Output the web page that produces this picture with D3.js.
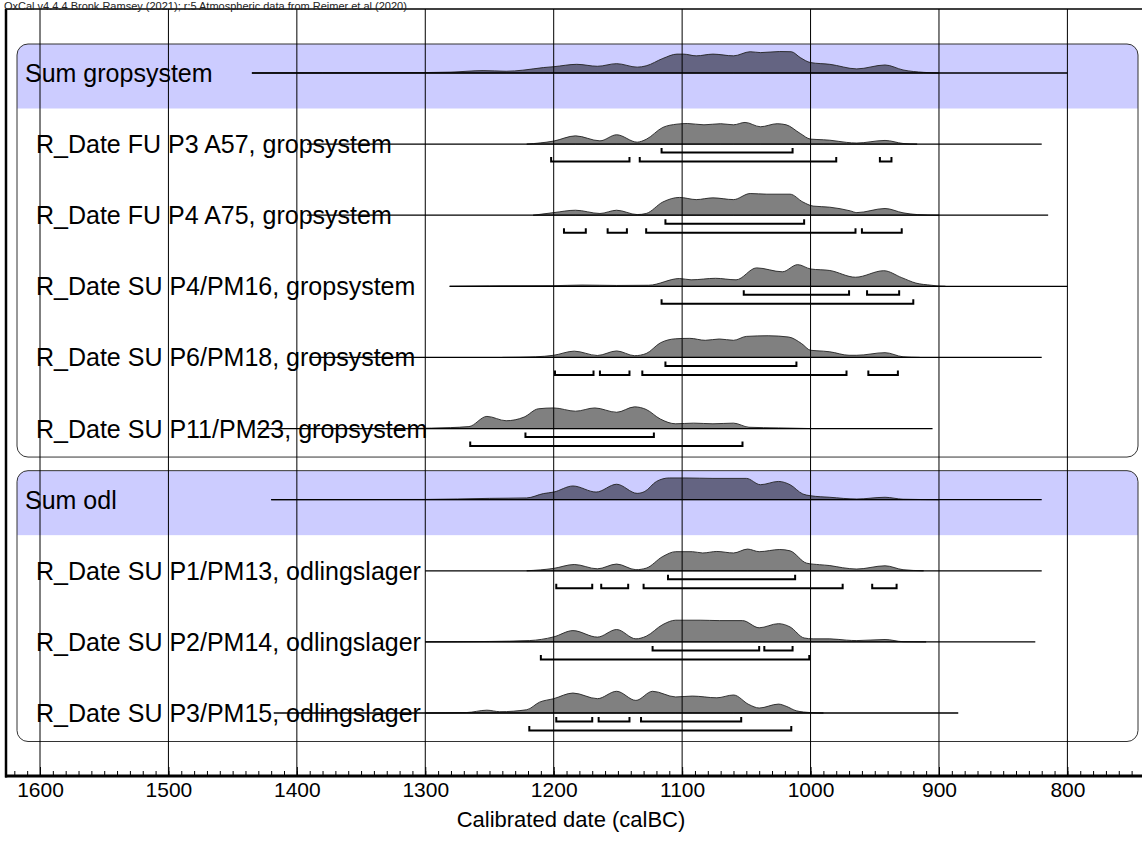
<!DOCTYPE html>
<html lang="en">
<head>
<meta charset="UTF-8" />
<title>OxCal multiplot</title>
<script src="https://cdn.jsdelivr.net/npm/d3@7"></script>
<style>
  body { margin: 0; background: #fff; }
  text { font-family: "Liberation Sans", Arial, sans-serif; }
</style>
</head>
<body>
<script>

// ---- data (years BC, relative probability 0..1) ----
var header = "OxCal v4.4.4 Bronk Ramsey (2021); r:5 Atmospheric data from Reimer et al (2020)";
var axisTitle = "Calibrated date (calBC)";
var majorTicks = [1600, 1500, 1400, 1300, 1200, 1100, 1000, 900, 800];
var minorTicks = d3.range(1620, 740, -10);

var labels = [
  "Sum gropsystem",
  "R_Date FU P3 A57, gropsystem",
  "R_Date FU P4 A75, gropsystem",
  "R_Date SU P4/PM16, gropsystem",
  "R_Date SU P6/PM18, gropsystem",
  "R_Date SU P11/PM23, gropsystem",
  "Sum odl",
  "R_Date SU P1/PM13, odlingslager",
  "R_Date SU P2/PM14, odlingslager",
  "R_Date SU P3/PM15, odlingslager"
];
var kinds = ["sum", "date", "date", "date", "date", "date", "sum", "date", "date", "date"];
var spans = [[1435, 800], [1392, 820], [1392, 815], [1281, 800], [1390, 820],
             [1431, 905], [1420, 820], [1300, 820], [1300, 825], [1418, 885]];
var groups = [[0, 5], [6, 9]];

var densSumGrop = [[1435,0],[1380,0.01],[1300,0.02],[1280,0.04],[1255,0.11],[1237,0.08],[1224,0.13],[1208,0.25],[1200,0.29],[1182,0.40],[1166,0.31],[1151,0.43],[1135,0.27],[1128,0.33],[1115,0.67],[1104,0.87],[1099,0.87],[1089,0.79],[1076,0.87],[1060,0.79],[1047,0.98],[1039,0.94],[1024,0.99],[1015,0.98],[1008,0.71],[1000,0.48],[985,0.40],[964,0.19],[942,0.37],[928,0.14],[912,0.03],[900,0]];
var densP3A57 = [[1221,0],[1200,0.14],[1183,0.38],[1164,0.15],[1151,0.43],[1135,0.09],[1128,0.22],[1115,0.77],[1104,0.92],[1096,0.95],[1083,0.89],[1070,0.94],[1060,0.89],[1051,1.0],[1039,0.8],[1026,0.94],[1019,0.89],[1008,0.49],[1000,0.23],[990,0.2],[985,0.18],[972,0.08],[964,0.05],[942,0.17],[928,0.03],[917,0]];
var densP4A75 = [[1216,0],[1200,0.12],[1183,0.23],[1164,0.08],[1151,0.23],[1135,0.03],[1128,0.08],[1115,0.61],[1102,0.82],[1089,0.72],[1076,0.8],[1060,0.72],[1047,1.0],[1034,0.97],[1016,0.97],[1006,0.61],[998,0.42],[985,0.37],[969,0.2],[964,0.12],[942,0.31],[928,0.11],[917,0.03],[900,0]];
var densP4PM16 = [[1281,0],[1250,0.02],[1200,0.03],[1178,0.06],[1151,0.04],[1126,0.05],[1102,0.36],[1093,0.3],[1074,0.37],[1058,0.3],[1042,0.85],[1022,0.67],[1010,1.0],[1000,0.8],[985,0.73],[965,0.42],[943,0.72],[929,0.4],[918,0.15],[906,0.05],[900,0.01],[895,0]];
var densP6PM18 = [[1240,0],[1214,0.03],[1200,0.1],[1184,0.29],[1166,0.09],[1151,0.3],[1137,0.08],[1128,0.18],[1117,0.67],[1105,0.86],[1094,0.88],[1082,0.79],[1071,0.85],[1060,0.79],[1050,0.97],[1033,1.0],[1017,0.94],[1007,0.64],[1000,0.33],[990,0.29],[985,0.26],[970,0.1],[964,0.1],[942,0.22],[928,0.03],[915,0]];
var densP11PM23 = [[1320,0],[1295,0.02],[1266,0.09],[1252,0.56],[1237,0.36],[1223,0.53],[1212,0.91],[1200,0.95],[1183,0.8],[1168,0.95],[1151,0.75],[1137,1.0],[1128,0.88],[1117,0.44],[1105,0.22],[1091,0.25],[1076,0.22],[1060,0.25],[1048,0.06],[1025,0.03],[1000,0]];
var densSumOdl = [[1420,0],[1300,0.01],[1250,0.06],[1221,0.08],[1208,0.28],[1200,0.35],[1185,0.63],[1167,0.35],[1151,0.71],[1135,0.29],[1129,0.38],[1120,0.84],[1110,1.0],[1097,1.0],[1076,0.98],[1050,0.98],[1039,0.69],[1025,0.84],[1016,0.69],[1006,0.26],[1000,0.18],[985,0.11],[964,0.03],[942,0.11],[928,0.02],[900,0]];
var densP1PM13 = [[1221,0],[1200,0.11],[1184,0.29],[1166,0.09],[1151,0.31],[1136,0.05],[1128,0.12],[1115,0.66],[1105,0.88],[1092,0.88],[1084,0.82],[1073,0.89],[1060,0.82],[1049,1.0],[1040,0.88],[1024,0.98],[1016,0.92],[1003,0.35],[993,0.28],[985,0.24],[975,0.14],[964,0.08],[942,0.23],[928,0.05],[912,0]];
var densP2PM14 = [[1300,0],[1250,0.02],[1219,0.06],[1200,0.23],[1185,0.52],[1166,0.22],[1151,0.57],[1136,0.14],[1128,0.26],[1115,0.8],[1105,1.0],[1086,1.0],[1071,0.98],[1053,0.98],[1040,0.65],[1025,0.84],[1016,0.69],[1005,0.18],[998,0.14],[985,0.14],[972,0.08],[964,0.06],[942,0.11],[928,0.01],[910,0]];
var densP3PM15 = [[1300,0],[1268,0.02],[1252,0.13],[1242,0.06],[1221,0.15],[1211,0.5],[1200,0.66],[1185,0.92],[1166,0.66],[1151,1.0],[1136,0.58],[1123,1.0],[1105,0.74],[1092,0.78],[1073,0.7],[1060,0.83],[1048,0.39],[1040,0.23],[1025,0.41],[1019,0.31],[1011,0.1],[1000,0.02],[990,0]];

var dens = [densSumGrop, densP3A57, densP4A75, densP4PM16, densP6PM18,
            densP11PM23, densSumOdl, densP1PM13, densP2PM14, densP3PM15];

// highest posterior density ranges
var hpd68 = [[], [[1116,1014]], [[1113,1005]], [[1052,970],[956,931]], [[1113,1011]],
             [[1222,1122]], [], [[1111,1012]], [[1123,1040],[1036,1014]],
             [[1198,1170],[1165,1141],[1132,1054]]];
var hpd95 = [[], [[1202,1141],[1133,980],[946,937]],
             [[1192,1175],[1158,1143],[1128,965],[960,929]],
             [[1116,920]],
             [[1199,1169],[1164,1141],[1131,972],[955,932]],
             [[1265,1053]], [],
             [[1198,1170],[1163,1142],[1130,975],[952,933]],
             [[1210,1001]], [[1219,1015]]];

// ---- layout ----
var W = 1142, H = 860;
var frameTop = 9, axisY = 776, frameLeft = 6;
var boxLeft = 17, boxRight = 1138;

var svg = d3.select("body").append("svg")
  .attr("width", W)
  .attr("height", H);

var x = d3.scaleLinear().domain([1600, 800]).range([40, 1067.4]);
var y = d3.scaleLinear().domain([0, 9]).range([73, 713]);
var h = d3.scaleLinear().domain([0, 1]).range([0, 21.7]);

var area = d3.area()
  .x(function(d) { return x(d[0]); })
  .y0(0)
  .y1(function(d) { return -h(d[1]); })
  .curve(d3.curveMonotoneX);

// group boxes with blue header band
var defs = svg.append("defs");
groups.forEach(function(g, gi) {
  var top = y(g[0]) - 29, bottom = y(g[1]) + 28.5;
  defs.append("clipPath").attr("id", "clip" + gi)
    .append("rect")
    .attr("x", boxLeft).attr("y", top)
    .attr("width", boxRight - boxLeft).attr("height", bottom - top)
    .attr("rx", 11).attr("ry", 11);
  svg.append("rect")
    .attr("clip-path", "url(#clip" + gi + ")")
    .attr("x", boxLeft).attr("y", top)
    .attr("width", boxRight - boxLeft)
    .attr("height", y(g[0]) + 35.5 - top)
    .attr("fill", "#ccccff");
  svg.append("rect")
    .attr("x", boxLeft).attr("y", top)
    .attr("width", boxRight - boxLeft).attr("height", bottom - top)
    .attr("rx", 11).attr("ry", 11)
    .attr("fill", "none")
    .attr("stroke", "#333")
    .attr("stroke-width", 1);
});

// rows
var rows = svg.selectAll("g.row")
  .data(labels)
  .enter().append("g")
  .attr("class", "row")
  .attr("transform", function(d, i) { return "translate(0," + y(i) + ")"; });

rows.append("text")
  .attr("x", function(d, i) { return kinds[i] == "sum" ? 25 : 36; })
  .attr("y", 9)
  .attr("font-size", "25px")
  .attr("fill", "#000")
  .text(function(d) { return d; });

rows.append("path")
  .attr("d", function(d, i) { return area(dens[i]); })
  .attr("fill", function(d, i) { return kinds[i] == "sum" ? "#646482" : "#808080"; })
  .attr("stroke", "#222")
  .attr("stroke-width", 0.9);

rows.append("line")
  .attr("x1", function(d, i) { return x(spans[i][0]); })
  .attr("x2", function(d, i) { return x(spans[i][1]); })
  .attr("y1", 0).attr("y2", 0)
  .attr("stroke", "#000")
  .attr("stroke-width", 1.3);

function bracket(r) {
  return "M" + x(r[0]) + ",-4.5V0H" + x(r[1]) + "V-4.5";
}

rows.each(function(d, i) {
  var g = d3.select(this);
  g.selectAll("path.r68").data(hpd68[i]).enter().append("path")
    .attr("class", "r68")
    .attr("transform", "translate(0,8.5)")
    .attr("d", bracket)
    .attr("fill", "none").attr("stroke", "#000").attr("stroke-width", 2);
  g.selectAll("path.r95").data(hpd95[i]).enter().append("path")
    .attr("class", "r95")
    .attr("transform", "translate(0,17.5)")
    .attr("d", bracket)
    .attr("fill", "none").attr("stroke", "#000").attr("stroke-width", 2);
});

// vertical grid lines on top
svg.append("g").selectAll("line")
  .data(majorTicks)
  .enter().append("line")
  .attr("x1", function(d) { return x(d); })
  .attr("x2", function(d) { return x(d); })
  .attr("y1", frameTop).attr("y2", axisY)
  .attr("stroke", "#000")
  .attr("stroke-width", 1);

// axis
var minorAxis = d3.axisBottom(x)
  .tickValues(minorTicks)
  .tickSize(-5)
  .tickFormat("");
svg.append("g")
  .attr("transform", "translate(0," + axisY + ")")
  .call(minorAxis)
  .call(function(g) { g.select(".domain").remove(); });

var majorAxis = d3.axisBottom(x)
  .tickValues(majorTicks)
  .tickSize(-9)
  .tickPadding(6)
  .tickFormat(d3.format("d"));
svg.append("g")
  .attr("transform", "translate(0," + axisY + ")")
  .call(majorAxis)
  .call(function(g) {
    g.select(".domain").remove();
    g.selectAll("text")
      .attr("font-size", "21px")
      .attr("font-family", "Liberation Sans, Arial, sans-serif")
      .attr("fill", "#000");
  });

// frame
svg.append("line")
  .attr("x1", frameLeft).attr("x2", W)
  .attr("y1", frameTop).attr("y2", frameTop)
  .attr("stroke", "#000").attr("stroke-width", 1.5);
svg.append("line")
  .attr("x1", frameLeft).attr("x2", frameLeft)
  .attr("y1", frameTop).attr("y2", axisY + 1.5)
  .attr("stroke", "#000").attr("stroke-width", 2.5);
svg.append("line")
  .attr("x1", frameLeft - 1).attr("x2", W)
  .attr("y1", axisY).attr("y2", axisY)
  .attr("stroke", "#000").attr("stroke-width", 3);

svg.append("text")
  .attr("x", 571)
  .attr("y", 827)
  .attr("text-anchor", "middle")
  .attr("font-size", "22px")
  .text(axisTitle);

svg.append("text")
  .attr("x", 4)
  .attr("y", 10)
  .attr("font-size", "11px")
  .attr("fill", "#222")
  .text(header);

</script>
</body>
</html>
